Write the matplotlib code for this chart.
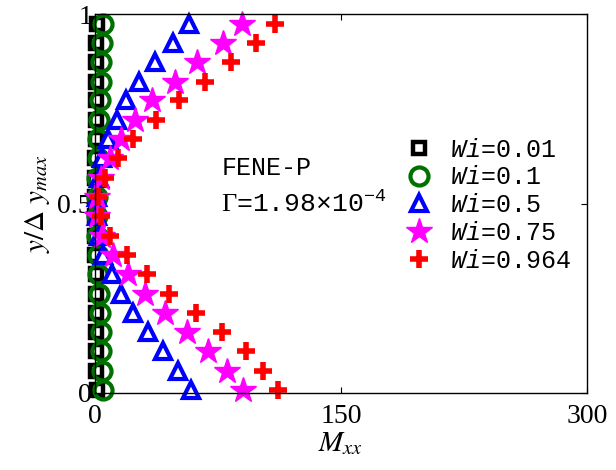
import numpy as np
import matplotlib
matplotlib.use("Agg")
import matplotlib.pyplot as plt

plt.rcParams["mathtext.fontset"] = "custom"
plt.rcParams["mathtext.rm"] = "Liberation Mono"
plt.rcParams["mathtext.it"] = "Liberation Mono:italic"
plt.rcParams["mathtext.sf"] = "Liberation Serif"

# wall-normal position, bottom to top
y = [0.008, 0.059, 0.110, 0.161, 0.212, 0.262, 0.313, 0.364, 0.415, 0.466,
     0.517, 0.568, 0.619, 0.670, 0.721, 0.772, 0.822, 0.873, 0.924, 0.975]

m_wi001 = [1.0, 0.9, 0.8, 0.7, 0.6, 0.5, 0.4, 0.3, 0.2, 0.1,
           0.1, 0.2, 0.3, 0.4, 0.5, 0.6, 0.7, 0.8, 0.9, 1.0]
m_wi01 = [5.0, 4.5, 4.0, 3.5, 3.0, 2.6, 2.2, 1.8, 1.4, 1.0,
          1.0, 1.4, 1.8, 2.2, 2.6, 3.0, 3.5, 4.0, 4.5, 5.0]
m_wi05 = [58.9, 50.8, 41.7, 32.5, 23.4, 15.7, 10.2, 5.1, 2.5, 1.2,
          1.2, 2.5, 4.1, 8.1, 13.2, 18.7, 26.6, 36.4, 47.4, 57.5]
m_wi075 = [90.4, 80.3, 69.1, 55.9, 42.7, 30.5, 20.3, 11.2, 4.1, 1.0,
           1.5, 4.0, 9.1, 15.7, 24.4, 34.6, 48.8, 62.4, 77.9, 89.4]
m_wi0964 = [111.8, 102.7, 91.9, 77.3, 61.6, 45.3, 31.5, 19.3, 9.1, 3.5,
            2.0, 6.1, 13.8, 23.4, 37.2, 51.4, 67.1, 82.7, 98.2, 109.8]

labels = ["0.01", "0.1", "0.5", "0.75", "0.964"]

fig = plt.figure(figsize=(6.16, 4.70), dpi=100)
ax = fig.add_axes([0.154, 0.164, 0.799, 0.806])

ax.plot(m_wi001, y, ls="none", marker="s", ms=8.5, mfc="white", mec="black", mew=3.2,
        clip_on=False, label=r"$Wi$=" + labels[0])
ax.plot(m_wi01, y, ls="none", marker="o", ms=13, mfc="none", mec="#007000", mew=3,
        clip_on=False, label=r"$Wi$=" + labels[1])
ax.plot(m_wi05, y, ls="none", marker="^", ms=11, mfc="white", mec="blue", mew=3,
        clip_on=False, label=r"$Wi$=" + labels[2])
ax.plot(m_wi075, y, ls="none", marker="*", ms=19, mfc="magenta", mec="magenta", mew=1,
        clip_on=False, label=r"$Wi$=" + labels[3])
ax.plot(m_wi0964, y, ls="none", marker="+", ms=13, mec="red", mew=4,
        clip_on=False, label=r"$Wi$=" + labels[4])

ax.set_xlim(0, 300)
ax.set_ylim(0, 1)
ax.set_xticks([0, 150, 300])
ax.set_yticks([0, 0.5, 1])
ax.set_xticklabels(["0", "150", "300"], family="Liberation Serif", fontsize=20)
ax.set_yticklabels(["0", "0.5", "1"], family="Liberation Serif", fontsize=20)
ax.tick_params(axis="x", direction="in", top=True, length=4, width=0.8, pad=8)
ax.tick_params(axis="y", direction="in", right=True, length=4, width=0.8, pad=2)
for s in ax.spines.values():
    s.set_linewidth(1.0)

ax.set_xlabel(r"$M_{xx}$", fontsize=21, math_fontfamily="stix", labelpad=0)
ax.set_ylabel(r"$y/\Delta\ y_{max}$", fontsize=21, math_fontfamily="stix", labelpad=4)

ax.text(0.258, 0.575, "FENE-P", transform=ax.transAxes, family="Liberation Mono",
        fontsize=18, va="baseline")
ax.text(0.256, 0.478, r"$\mathsf{\Gamma}$=1.98×10$^{-4}$", transform=ax.transAxes,
        family="Liberation Mono", fontsize=19, math_fontfamily="custom", va="baseline")

leg = ax.legend(loc="upper left", bbox_to_anchor=(0.605, 0.70), frameon=False,
                prop={"family": "Liberation Mono", "size": 18}, handletextpad=0.6,
                labelspacing=0.15, handlelength=1.3, borderaxespad=0)
for t in leg.get_texts():
    t.set_math_fontfamily("custom")

fig.savefig("out.png", dpi=100)
